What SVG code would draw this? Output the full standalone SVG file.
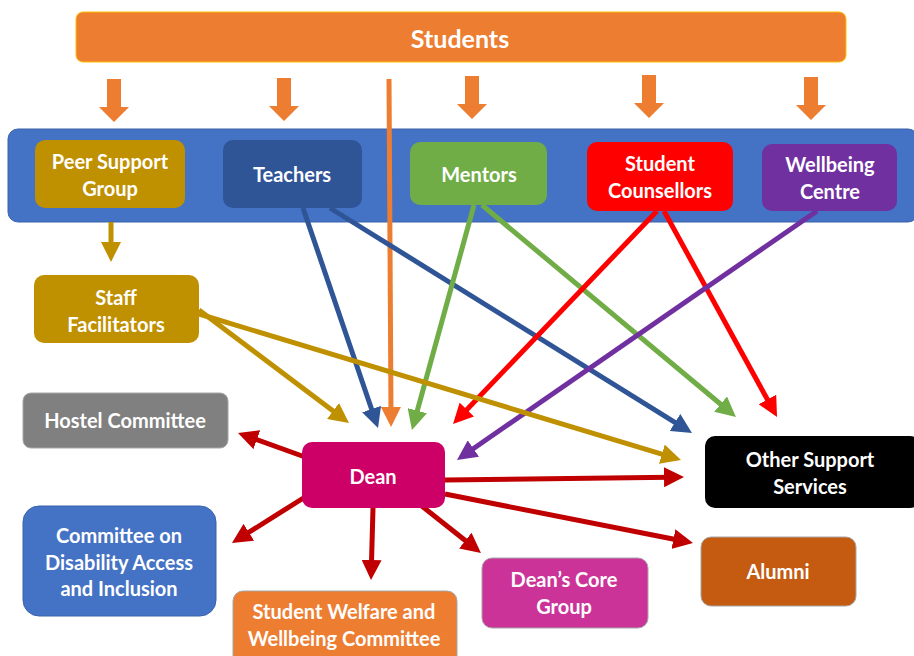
<svg xmlns="http://www.w3.org/2000/svg" width="914" height="656" viewBox="0 0 914 656">
<style>
.t{font-family:Lato,"Liberation Sans",sans-serif;font-weight:700;font-size:20px;fill:#fff;text-anchor:middle;dominant-baseline:central}
.c{fill:none;stroke-width:5;stroke-linecap:butt}
</style>
<defs>
<marker id="mGold" markerUnits="userSpaceOnUse" markerWidth="20" markerHeight="20" viewBox="0 0 20 20" refX="6" refY="10" orient="auto"><path d="M0,0 L20,10 L0,20 z" fill="#BF9000"/></marker>
<marker id="mBlue" markerUnits="userSpaceOnUse" markerWidth="20" markerHeight="20" viewBox="0 0 20 20" refX="6" refY="10" orient="auto"><path d="M0,0 L20,10 L0,20 z" fill="#2F5597"/></marker>
<marker id="mOrange" markerUnits="userSpaceOnUse" markerWidth="20" markerHeight="20" viewBox="0 0 20 20" refX="6" refY="10" orient="auto"><path d="M0,0 L20,10 L0,20 z" fill="#ED7D31"/></marker>
<marker id="mGreen" markerUnits="userSpaceOnUse" markerWidth="20" markerHeight="20" viewBox="0 0 20 20" refX="6" refY="10" orient="auto"><path d="M0,0 L20,10 L0,20 z" fill="#70AD47"/></marker>
<marker id="mRed" markerUnits="userSpaceOnUse" markerWidth="20" markerHeight="20" viewBox="0 0 20 20" refX="6" refY="10" orient="auto"><path d="M0,0 L20,10 L0,20 z" fill="#FF0000"/></marker>
<marker id="mPurple" markerUnits="userSpaceOnUse" markerWidth="20" markerHeight="20" viewBox="0 0 20 20" refX="6" refY="10" orient="auto"><path d="M0,0 L20,10 L0,20 z" fill="#7030A0"/></marker>
<marker id="mDark" markerUnits="userSpaceOnUse" markerWidth="20" markerHeight="20" viewBox="0 0 20 20" refX="6" refY="10" orient="auto"><path d="M0,0 L20,10 L0,20 z" fill="#C00000"/></marker>
</defs>
<rect width="914" height="656" fill="#fff"/>

<g id="students">
<rect x="76" y="12" width="770" height="50" rx="7" fill="#ED7D31" stroke="#FFC000" stroke-width="1"/>
<text class="t" x="460" y="38" style="font-size:25px">Students</text>
</g>

<g id="band">
<rect x="8" y="129" width="910" height="93" rx="10" fill="#4472C4" stroke="#3A63AC" stroke-width="1"/>
</g>

<g id="connectors">
<g fill="#ED7D31">
<polygon points="107,79 121,79 121,107 129,107 114,122 99,107 107,107"/>
<polygon points="277,78 291,78 291,106 299,106 284,121 269,106 277,106"/>
<polygon points="465,76 479,76 479,104 487,104 472,119 457,104 465,104"/>
<polygon points="642,75 656,75 656,103 664,103 649,118 634,103 642,103"/>
<polygon points="804,77 818,77 818,105 826,105 811,120 796,105 804,105"/>
</g>
<line class="c" x1="389" y1="79" x2="391" y2="413" stroke="#ED7D31" marker-end="url(#mOrange)"/>
<line class="c" x1="111" y1="222" x2="111" y2="248" stroke="#BF9000" stroke-width="4" marker-end="url(#mGold)"/>
<line class="c" x1="303" y1="208" x2="373.5" y2="414.8" stroke="#2F5597" marker-end="url(#mBlue)"/>
<line class="c" x1="330" y1="208" x2="680.1" y2="425.6" stroke="#2F5597" marker-end="url(#mBlue)"/>
<line class="c" x1="474" y1="205" x2="415.7" y2="416.5" stroke="#70AD47" marker-end="url(#mGreen)"/>
<line class="c" x1="482" y1="205" x2="725.2" y2="408" stroke="#70AD47" marker-end="url(#mGreen)"/>
<line class="c" x1="657" y1="211" x2="462.7" y2="413.9" stroke="#FF0000" marker-end="url(#mRed)"/>
<line class="c" x1="664" y1="211" x2="770.3" y2="404.7" stroke="#FF0000" marker-end="url(#mRed)"/>
<line class="c" x1="817" y1="211" x2="468.5" y2="452" stroke="#7030A0" marker-end="url(#mPurple)"/>
<line class="c" x1="199" y1="310" x2="337.8" y2="414.6" stroke="#BF9000" marker-end="url(#mGold)"/>
<line class="c" x1="199" y1="314" x2="667.6" y2="455.9" stroke="#BF9000" marker-end="url(#mGold)"/>
<line class="c" x1="305" y1="457" x2="251.2" y2="437.7" stroke="#C00000" marker-end="url(#mDark)"/>
<line class="c" x1="305" y1="497" x2="243.8" y2="535.5" stroke="#C00000" marker-end="url(#mDark)"/>
<line class="c" x1="373" y1="508" x2="371.4" y2="566" stroke="#C00000" marker-end="url(#mDark)"/>
<line class="c" x1="418" y1="503" x2="470" y2="544.3" stroke="#C00000" marker-end="url(#mDark)"/>
<line class="c" x1="445" y1="480" x2="670" y2="477.2" stroke="#C00000" marker-end="url(#mDark)"/>
<line class="c" x1="445" y1="494" x2="679.3" y2="540.3" stroke="#C00000" marker-end="url(#mDark)"/>
</g>

<g id="peer">
<rect x="35" y="140" width="150" height="68" rx="10" fill="#BF9000"/>
<text class="t" x="110" y="161">Peer Support</text>
<text class="t" x="110" y="188">Group</text>
</g>
<g id="teachers">
<rect x="223" y="140" width="139" height="68" rx="10" fill="#2F5597"/>
<text class="t" x="292" y="174">Teachers</text>
</g>
<g id="mentors">
<rect x="410" y="142" width="137" height="63" rx="10" fill="#70AD47"/>
<text class="t" x="479" y="174">Mentors</text>
</g>
<g id="counsellors">
<rect x="587" y="142" width="146" height="69" rx="10" fill="#FF0000"/>
<text class="t" x="660" y="163">Student</text>
<text class="t" x="660" y="190">Counsellors</text>
</g>
<g id="wellbeing">
<rect x="762" y="144" width="135" height="67" rx="10" fill="#7030A0"/>
<text class="t" x="830" y="164">Wellbeing</text>
<text class="t" x="830" y="191">Centre</text>
</g>
<g id="staff">
<rect x="34" y="275" width="165" height="68" rx="10" fill="#BF9000"/>
<text class="t" x="116" y="297">Staff</text>
<text class="t" x="116" y="324">Facilitators</text>
</g>
<g id="hostel">
<rect x="23" y="393" width="205" height="55" rx="8" fill="#808080" stroke="#A6A6A6" stroke-width="1"/>
<text class="t" x="125" y="420">Hostel Committee</text>
</g>
<g id="dean">
<rect x="302" y="442" width="143" height="66" rx="10" fill="#CC0066"/>
<text class="t" x="373" y="476">Dean</text>
</g>
<g id="disability">
<rect x="23" y="506" width="193" height="110" rx="16" fill="#4472C4" stroke="#3A63AC" stroke-width="1"/>
<text class="t" x="119" y="535">Committee on</text>
<text class="t" x="119" y="562">Disability Access</text>
<text class="t" x="119" y="588">and Inclusion</text>
</g>
<g id="welfare">
<rect x="233" y="591" width="224" height="80" rx="10" fill="#ED7D31" stroke="#A6A6A6" stroke-width="1"/>
<text class="t" x="344" y="611">Student Welfare and</text>
<text class="t" x="344" y="638">Wellbeing Committee</text>
</g>
<g id="coregroup">
<rect x="482" y="558" width="166" height="70" rx="10" fill="#CC3399" stroke="#A6A6A6" stroke-width="1"/>
<text class="t" x="564" y="579">Dean’s Core</text>
<text class="t" x="564" y="606">Group</text>
</g>
<g id="other">
<rect x="705" y="436" width="215" height="72" rx="10" fill="#000"/>
<text class="t" x="810" y="459">Other Support</text>
<text class="t" x="810" y="486">Services</text>
</g>
<g id="alumni">
<rect x="701" y="537" width="155" height="69" rx="10" fill="#C55A11" stroke="#A6A6A6" stroke-width="1"/>
<text class="t" x="778" y="571">Alumni</text>
</g>
</svg>
